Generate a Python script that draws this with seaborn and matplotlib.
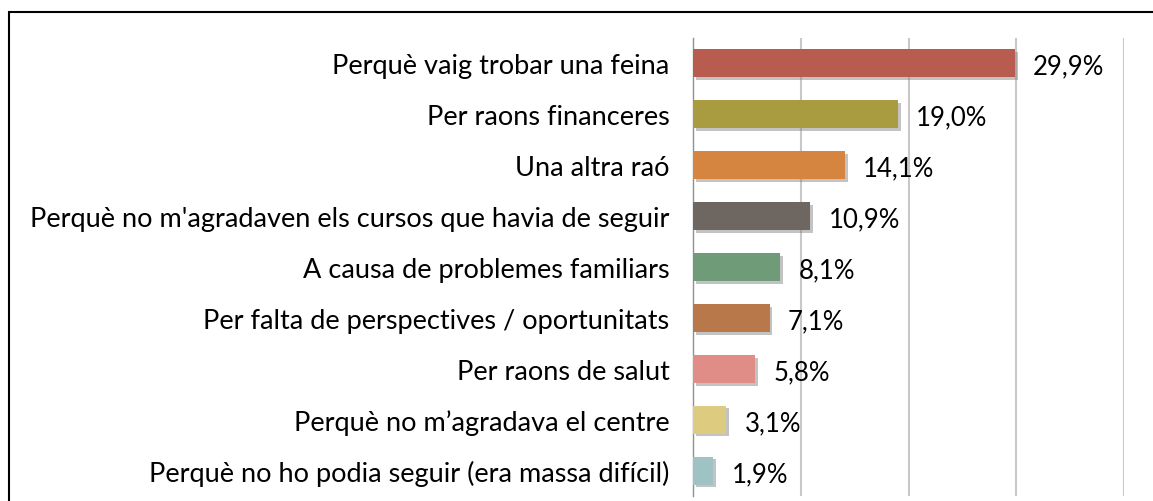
import numpy as np
import pandas as pd
import matplotlib
matplotlib.use('Agg')
import matplotlib.pyplot as plt
import matplotlib.patheffects as pe
from matplotlib.patches import Rectangle
import seaborn as sns

# Data
reasons = ['Perquè vaig trobar una feina',
           'Per raons financeres',
           'Una altra raó',
           "Perquè no m'agradaven els cursos que havia de seguir",
           'A causa de problemes familiars',
           'Per falta de perspectives / oportunitats',
           'Per raons de salut',
           'Perquè no m’agradava el centre',
           'Perquè no ho podia seguir (era massa difícil)']
percent = [29.9, 19.0, 14.1, 10.9, 8.1, 7.1, 5.8, 3.1, 1.9]
bar_colors = ['#B85C50', '#A99B40', '#D5853F', '#6E6660', '#6F9B78',
              '#B8784A', '#E08D87', '#DDCB80', '#9FC2C5']

df = pd.DataFrame({'Reason': reasons, 'Percent': percent})

sns.set_style('white')
plt.rcParams['font.family'] = ['Lato', 'DejaVu Sans']
plt.rcParams['text.color'] = 'black'
plt.rcParams['ytick.color'] = 'black'

fig = plt.figure(figsize=(11.53, 5.02), dpi=100)
ax = fig.add_axes([693 / 1153, 1 - 497 / 502, (1124 - 693) / 1153, (497 - 39) / 502])

sns.barplot(data=df, x='Percent', y='Reason', hue='Reason', palette=bar_colors,
            legend=False, width=0.55, saturation=1, ax=ax, zorder=3,
            edgecolor='none')

for bar in ax.patches:
    bar.set_path_effects([pe.SimplePatchShadow(offset=(2, -2), shadow_rgbFace='#888888',
                                               alpha=0.5),
                          pe.Normal()])

for i, v in enumerate(percent):
    ax.annotate(f'{v:.1f}%'.replace('.', ','), xy=(v, i), xytext=(13, -2),
                textcoords='offset points', va='center', ha='left', fontsize=18.5)

ax.set_xlim(0, 40)
ax.set_ylim(8.5, -0.5)
ax.set_xticks([10, 20, 30, 40])
ax.set_xticklabels([])
ax.tick_params(axis='x', length=0)
ax.grid(axis='x', color='#C8C8C8', linewidth=1.5, zorder=0)
ax.set_axisbelow(True)
ax.set_xlabel('')
ax.set_ylabel('')

ax.tick_params(axis='y', which='major', length=0, pad=17, labelsize=19.5)
ax.set_yticks(np.arange(-0.5, 9, 1), minor=True)
ax.tick_params(axis='y', which='minor', length=6, color='#909090', width=1)

for s in ['top', 'right', 'bottom']:
    ax.spines[s].set_visible(False)
ax.spines['left'].set_color('#909090')
ax.spines['left'].set_linewidth(1)

# outer frame (top and left edges visible)
fig.patches.append(Rectangle((9 / 1153, -0.1), 1.2, 1 - 13 / 502 + 0.1,
                             transform=fig.transFigure, fill=False,
                             edgecolor='black', linewidth=1.5))

fig.savefig('out.png', dpi=100)
